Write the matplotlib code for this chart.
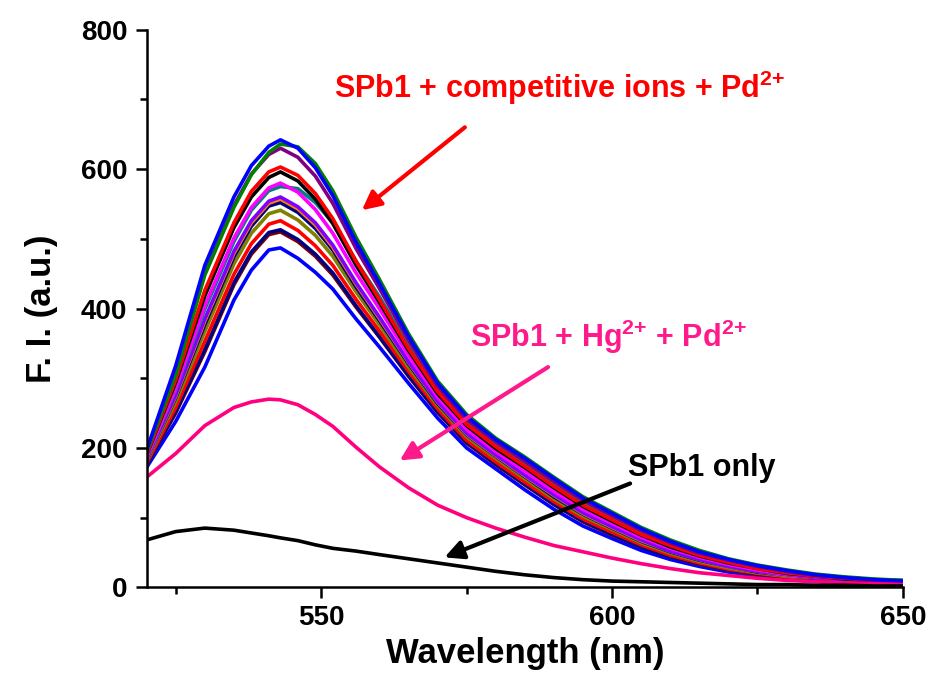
import matplotlib
matplotlib.use("Agg")
import matplotlib.pyplot as plt
from matplotlib.ticker import MultipleLocator

plt.rcParams['font.family'] = ['Liberation Sans', 'DejaVu Sans']
plt.rcParams['font.weight'] = 'bold'
plt.rcParams['mathtext.fontset'] = 'custom'
plt.rcParams['mathtext.rm'] = 'Liberation Sans:bold'
plt.rcParams['mathtext.it'] = 'Liberation Sans:bold'
plt.rcParams['mathtext.bf'] = 'Liberation Sans:bold'

# wavelength samples (nm)
wl = [520, 525, 530, 535, 538, 541, 543, 546, 549, 552, 556, 560, 565, 570, 575,
      580, 585, 590, 595, 600, 605, 610, 615, 620, 625, 630, 635, 640, 645, 650]

# SPb1 only
spb1_only = [68, 80, 85, 82, 78, 74, 71, 67, 61, 56, 52, 47, 41, 35, 29,
             23, 18, 14, 11, 9, 8, 7, 6, 5, 4, 4, 3, 3, 2, 2]

# SPb1 + Hg2+ + Pd2+
spb1_hg_pd = [158, 192, 232, 258, 266, 270, 269, 262, 248, 231, 201, 173, 143, 118, 100,
              85, 72, 60, 51, 42, 34, 27, 21, 17, 13, 10, 8, 6, 5, 4]

# SPb1 + competitive ions + Pd2+ (bottom to top)
comp_colors = ['#0000FF', '#800000', '#000080', '#FF0000', '#808000', '#000080',
               '#FF8000', '#8000FF', '#008080', '#FF00FF', '#000000', '#FF0000',
               '#800080', '#008000', '#0000FF']
comp_curves = [
    [172, 238, 316, 412, 455, 484, 487, 472, 452, 428, 385, 345, 293, 243, 200,
     170, 140, 112, 88, 70, 53, 40, 30, 22, 16, 12, 10, 8, 7, 6],
    [176, 250, 338, 434, 478, 506, 510, 496, 475, 448, 402, 359, 303, 251, 207,
     176, 147, 119, 94, 75, 58, 44, 33, 25, 18, 14, 11, 9, 8, 6],
    [176, 252, 341, 437, 481, 509, 513, 499, 478, 451, 404, 360, 304, 252, 208,
     177, 148, 119, 95, 76, 58, 44, 34, 25, 19, 14, 11, 9, 8, 7],
    [178, 258, 353, 449, 493, 521, 526, 512, 490, 462, 413, 368, 310, 256, 211,
     180, 151, 123, 98, 79, 61, 46, 35, 26, 20, 15, 12, 10, 8, 7],
    [181, 266, 367, 464, 508, 536, 541, 527, 505, 475, 424, 377, 316, 261, 216,
     185, 156, 127, 102, 83, 64, 49, 37, 28, 21, 16, 13, 10, 8, 7],
    [182, 272, 377, 474, 518, 547, 552, 538, 515, 484, 431, 383, 321, 264, 219,
     188, 159, 130, 105, 85, 66, 51, 39, 30, 22, 17, 13, 11, 9, 7],
    [183, 274, 382, 479, 523, 551, 557, 543, 520, 488, 435, 386, 323, 266, 220,
     189, 160, 132, 106, 86, 67, 52, 40, 30, 23, 17, 14, 11, 9, 7],
    [184, 276, 385, 482, 526, 554, 560, 546, 523, 491, 437, 388, 324, 267, 221,
     190, 161, 133, 107, 87, 68, 52, 40, 30, 23, 18, 14, 11, 9, 7],
    [186, 284, 399, 496, 541, 569, 575, 572, 552, 523, 468, 417, 348, 285, 238,
     206, 179, 150, 123, 102, 80, 63, 49, 38, 30, 23, 18, 14, 11, 10],
    [187, 286, 404, 501, 545, 573, 580, 567, 542, 508, 451, 400, 333, 273, 227,
     195, 167, 138, 112, 92, 72, 56, 43, 33, 25, 19, 15, 12, 9, 8],
    [190, 294, 418, 516, 560, 588, 596, 583, 557, 522, 462, 409, 340, 278, 232,
     199, 172, 143, 116, 95, 75, 58, 45, 35, 27, 20, 16, 12, 10, 8],
    [191, 298, 426, 523, 568, 596, 603, 591, 565, 529, 468, 413, 343, 281, 234,
     202, 174, 145, 118, 97, 76, 60, 46, 36, 27, 21, 16, 13, 10, 8],
    [195, 312, 450, 548, 593, 621, 630, 617, 590, 551, 486, 429, 355, 289, 241,
     209, 181, 152, 125, 103, 82, 64, 49, 39, 30, 23, 17, 14, 11, 9],
    [194, 305, 448, 545, 592, 624, 636, 632, 608, 569, 502, 442, 364, 296, 248,
     214, 187, 158, 130, 108, 86, 68, 53, 41, 32, 25, 19, 15, 12, 10],
    [197, 318, 462, 560, 605, 633, 642, 630, 602, 562, 495, 436, 360, 293, 245,
     212, 185, 156, 128, 106, 84, 66, 51, 40, 31, 24, 18, 14, 11, 9],
]

x_ticks = [550, 600, 650]
y_ticks = [0, 200, 400, 600, 800]

# annotation arrows: (tail, head) in data units
arrow_comp = ((574.7, 660), (557.0, 541))
arrow_hg = ((589.0, 316), (563.5, 182))
arrow_only = ((603.1, 149), (571.2, 43))


def main():
    fig = plt.figure(figsize=(9.28, 6.91), dpi=100)
    ax = fig.add_axes([0.158, 0.150, 0.815, 0.807])

    for c, y in zip(comp_colors, comp_curves):
        ax.plot(wl, y, color=c, lw=2.6)
    ax.plot(wl, spb1_hg_pd, color='#FF0080', lw=2.6)
    ax.plot(wl, spb1_only, color='black', lw=2.6)

    ax.set_xlim(520, 650)
    ax.set_ylim(0, 800)
    ax.set_xticks(x_ticks)
    ax.set_yticks(y_ticks)
    ax.xaxis.set_minor_locator(MultipleLocator(25))
    ax.yaxis.set_minor_locator(MultipleLocator(100))
    ax.spines['top'].set_visible(False)
    ax.spines['right'].set_visible(False)
    for s in ['left', 'bottom']:
        ax.spines[s].set_linewidth(1.8)
    ax.tick_params(which='major', direction='out', length=8, width=1.8,
                   labelsize=20)
    ax.tick_params(axis='x', which='major', pad=5)
    ax.tick_params(axis='y', which='major', pad=6)
    ax.tick_params(which='minor', direction='out', length=5, width=1.8)
    for lab in ax.get_xticklabels() + ax.get_yticklabels():
        lab.set_fontweight('bold')

    ax.set_xlabel("Wavelength (nm)", fontsize=25, fontweight='bold', labelpad=4)
    ax.set_ylabel("F. I. (a.u.)", fontsize=25, fontweight='bold', labelpad=16)

    ax.text(591, 716, r"SPb1 + competitive ions + Pd$^{2{+}}$", color='#FF0000',
            fontsize=22, fontweight='bold', ha='center', va='center')
    ax.text(575.5, 360, r"SPb1 + Hg$^{2{+}}$ + Pd$^{2{+}}$", color='#FF1A8C',
            fontsize=22, fontweight='bold', ha='left', va='center')
    ax.text(602.7, 171, "SPb1 only", color='black',
            fontsize=22, fontweight='bold', ha='left', va='center')

    for (tail, head), col in [(arrow_comp, '#FF0000'), (arrow_hg, '#FF1A8C'),
                              (arrow_only, 'black')]:
        ax.annotate("", xy=head, xytext=tail,
                    arrowprops=dict(arrowstyle='-|>', color=col, lw=3,
                                    mutation_scale=28, shrinkA=0, shrinkB=0))

    fig.savefig("out.png", dpi=100)


if __name__ == "__main__":
    main()
